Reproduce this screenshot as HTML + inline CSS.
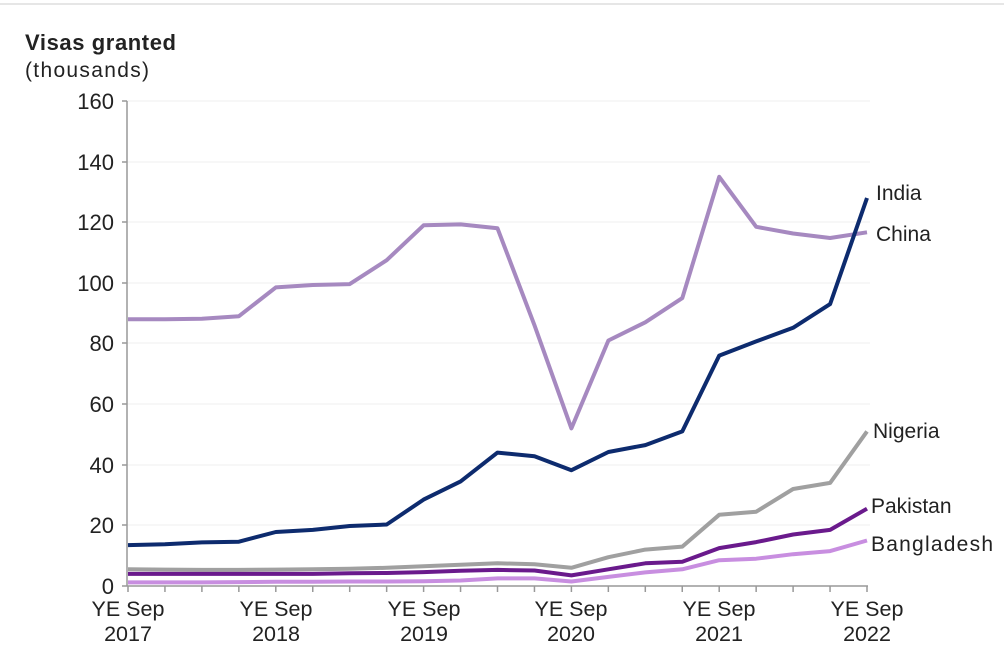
<!DOCTYPE html>
<html><head><meta charset="utf-8"><style>
body{margin:0;background:#fff}
svg text{font-family:"Liberation Sans",Arial,sans-serif;fill:#222}
</style></head><body>
<svg width="1004" height="644" viewBox="0 0 1004 644" xmlns="http://www.w3.org/2000/svg">
<line x1="0" y1="4" x2="1004" y2="4" stroke="#e6e6e6" stroke-width="2"/>
<text x="25" y="50" font-size="22" font-weight="bold" textLength="151">Visas granted</text>
<text x="25" y="77" font-size="21" textLength="124">(thousands)</text>
<g stroke="#efefef" stroke-width="1">
<line x1="127" y1="101" x2="870" y2="101"/><line x1="127" y1="162" x2="870" y2="162"/>
<line x1="127" y1="222" x2="870" y2="222"/><line x1="127" y1="283" x2="870" y2="283"/>
<line x1="127" y1="343" x2="870" y2="343"/><line x1="127" y1="404" x2="870" y2="404"/>
<line x1="127" y1="465" x2="870" y2="465"/><line x1="127" y1="525" x2="870" y2="525"/>
</g>
<g font-size="22" text-anchor="end">
<text x="114" y="109">160</text><text x="114" y="170">140</text><text x="114" y="230">120</text>
<text x="114" y="291">100</text><text x="114" y="351">80</text><text x="114" y="412">60</text>
<text x="114" y="473">40</text><text x="114" y="533">20</text><text x="114" y="594">0</text>
</g>
<g stroke="#999" stroke-width="1.5">
<line x1="127" y1="101" x2="127" y2="586"/><line x1="127" y1="586" x2="868" y2="586"/>
<line x1="122" y1="101" x2="127" y2="101"/><line x1="122" y1="162" x2="127" y2="162"/><line x1="122" y1="222" x2="127" y2="222"/><line x1="122" y1="283" x2="127" y2="283"/><line x1="122" y1="343" x2="127" y2="343"/><line x1="122" y1="404" x2="127" y2="404"/><line x1="122" y1="465" x2="127" y2="465"/><line x1="122" y1="525" x2="127" y2="525"/><line x1="122" y1="586" x2="127" y2="586"/>
</g>
<g id="ticks" stroke="#999" stroke-width="1.5"></g>
<g font-size="21.5" text-anchor="middle">
<text x="128" y="616">YE Sep</text><text x="128" y="641">2017</text>
<text x="276" y="616">YE Sep</text><text x="276" y="641">2018</text>
<text x="424" y="616">YE Sep</text><text x="424" y="641">2019</text>
<text x="571" y="616">YE Sep</text><text x="571" y="641">2020</text>
<text x="719" y="616">YE Sep</text><text x="719" y="641">2021</text>
<text x="867" y="616">YE Sep</text><text x="867" y="641">2022</text>
</g>
<g id="lines" fill="none" stroke-width="4" stroke-linejoin="round"></g>
<g font-size="21">
<text x="876" y="200">India</text><text x="876" y="241">China</text>
<text x="873" y="438">Nigeria</text><text x="871" y="513">Pakistan</text><text x="871" y="551" textLength="122">Bangladesh</text>
</g>
<script>
var ns="http://www.w3.org/2000/svg";
var t=document.getElementById("ticks");
for(var i=0;i<21;i++){var x=128+i*36.95;var l=document.createElementNS(ns,"line");l.setAttribute("x1",x);l.setAttribute("x2",x);l.setAttribute("y1",586);l.setAttribute("y2",592);t.appendChild(l);}
var S=[
["#c88ee0",[1.2,1.2,1.2,1.3,1.4,1.4,1.5,1.5,1.6,1.8,2.5,2.5,1.5,3,4.5,5.5,8.5,9,10.5,11.5,15]],
["#a0a0a0",[5.5,5.4,5.3,5.3,5.4,5.5,5.7,6,6.5,7,7.5,7.2,6,9.5,12,13,23.5,24.5,32,34,51]],
["#6a1a8c",[4,4,4,4,4,4,4.2,4.3,4.6,5,5.3,5.1,3.5,5.5,7.5,8,12.5,14.5,17,18.5,25.5]],
["#a689c0",[88,88,88.2,89,98.5,99.3,99.6,107.5,119,119.3,118,86,52,81,87,95,135,118.5,116.3,114.8,116.7]],
["#0d2b6e",[13.5,13.8,14.4,14.6,17.8,18.5,19.8,20.3,28.5,34.5,44,42.8,38.2,44.2,46.5,51,76,80.7,85.2,93,128]]];
var g=document.getElementById("lines");
S.forEach(function(s){var p=s[1].map(function(v,i){return (128+i*36.95).toFixed(1)+","+(586-v*3.031).toFixed(1)}).join(" ");
var e=document.createElementNS(ns,"polyline");e.setAttribute("points",p);e.setAttribute("stroke",s[0]);g.appendChild(e);});
</script>
</svg>
</body></html>
